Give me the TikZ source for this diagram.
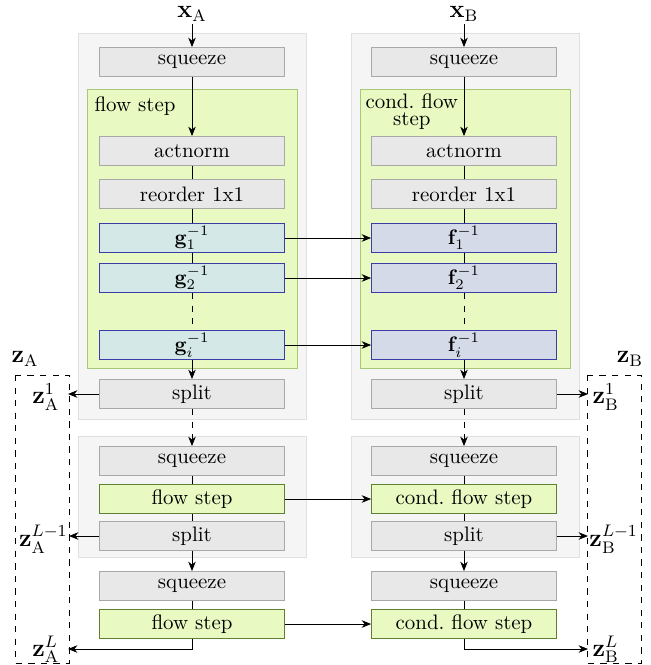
\documentclass[tikz,border=0pt]{standalone}
\usepackage{amsmath}
\usepackage{tikz}
\usetikzlibrary{arrows.meta,positioning}
\definecolor{bgfill}{HTML}{F5F5F5}
\definecolor{bgline}{HTML}{E0E0E0}
\definecolor{opfill}{HTML}{E8E8E8}
\definecolor{opline}{HTML}{A8A8A8}
\definecolor{stepfill}{HTML}{E8FAC2}
\definecolor{stepline}{HTML}{A8C878}
\definecolor{stepdark}{HTML}{5F7F35}
\definecolor{gfill}{HTML}{D4E8E8}
\definecolor{ffill}{HTML}{D4DAE8}
\definecolor{fline}{HTML}{3C3CA8}

\begin{document}
\begin{tikzpicture}[x=0.478pt,y=-0.478pt,
                    opND/.style={rectangle,
                                 draw=opline,
                                 fill=opfill,
                                 minimum width=88.4pt,
                                 minimum height=13.9pt,
                                 inner sep=0pt},
                    gND/.style={opND,draw=fline,fill=gfill},
                    fND/.style={opND,draw=fline,fill=ffill},
                    stepND/.style={opND,draw=stepdark,fill=stepfill},
                    bgbox/.style={draw=bgline,fill=bgfill},
                    stepbg/.style={draw=stepline,fill=stepfill},
                    zbox/.style={draw,dashed},
                    latND/.style={font=\large},
                    ar/.style={-{Stealth[length=4.5pt,width=3.6pt,inset=1.4pt]}},
                    ln/.style={-}]
    \useasboundingbox (0,0) rectangle (650,665);
    % background blocks
    \draw[bgbox] (78,33) rectangle (306,419);
    \draw[bgbox] (351,33) rectangle (579,419);
    \draw[bgbox] (78,436) rectangle (306,557);
    \draw[bgbox] (351,436) rectangle (579,557);
    \draw[stepbg] (87,89) rectangle (297,368);
    \draw[stepbg] (360,89) rectangle (570,368);
    \draw[zbox] (15,375) rectangle (69,663);
    \draw[zbox] (587,375) rectangle (641,663);
    \node[anchor=north west,inner sep=2pt] (fsA) at (90,92) {flow step};
    \node[anchor=north west,inner sep=2pt,align=center] (fsB) at (361,89) {cond.\ flow\\[-4pt]step};

    % left column
    \node[latND,inner sep=1pt] (xA) at (192,14) {$\mathbf{x}_\mathrm{A}$};
    \node[opND](sqA)  at (192,62)  {squeeze};
    \node[opND](actA) at (192,151) {actnorm};
    \node[opND](reA)  at (192,194) {reorder 1x1};
    \node[gND](gA1)   at (192,238) {$\mathbf{g}_1^{-1}$};
    \node[gND](gA2)   at (192,278) {$\mathbf{g}_2^{-1}$};
    \node[gND](gAi)   at (192,345) {$\mathbf{g}_i^{-1}$};
    \node[opND](spA)  at (192,394) {split};
    \node[opND](sqA2) at (192,461) {squeeze};
    \node[stepND](stA2) at (192,499) {flow step};
    \node[opND](spA2) at (192,536) {split};
    \node[opND](sqA3) at (192,586) {squeeze};
    \node[stepND](stA3) at (192,624) {flow step};

    % right column
    \node[latND,inner sep=1pt] (xB) at (464,14) {$\mathbf{x}_\mathrm{B}$};
    \node[opND](sqB)  at (464,62)  {squeeze};
    \node[opND](actB) at (464,151) {actnorm};
    \node[opND](reB)  at (464,194) {reorder 1x1};
    \node[fND](fB1)   at (464,238) {$\mathbf{f}_1^{-1}$};
    \node[fND](fB2)   at (464,278) {$\mathbf{f}_2^{-1}$};
    \node[fND](fBi)   at (464,345) {$\mathbf{f}_i^{-1}$};
    \node[opND](spB)  at (464,394) {split};
    \node[opND](sqB2) at (464,461) {squeeze};
    \node[stepND](stB2) at (464,499) {cond.\ flow step};
    \node[opND](spB2) at (464,536) {split};
    \node[opND](sqB3) at (464,586) {squeeze};
    \node[stepND](stB3) at (464,624) {cond.\ flow step};

    % latents
    \node[latND] (zA) at (25,359)  {$\mathbf{z}_\mathrm{A}$};
    \node[latND] (zB) at (630,359) {$\mathbf{z}_\mathrm{B}$};
    \node[latND,anchor=east,inner sep=4pt] (zA1) at (68,397) {$\mathbf{z}_\mathrm{A}^1$};
    \node[latND,anchor=east,inner sep=0.5pt] (zAL1) at (69,539) {$\mathbf{z}_\mathrm{A}^{L-1}$};
    \node[latND,anchor=east,inner sep=4pt] (zAL) at (68,649) {$\mathbf{z}_\mathrm{A}^L$};
    \node[latND,anchor=west,inner sep=2pt] (zB1) at (588,397) {$\mathbf{z}_\mathrm{B}^1$};
    \node[latND,anchor=west,inner sep=0.5pt] (zBL1) at (588,539) {$\mathbf{z}_\mathrm{B}^{L-1}$};
    \node[latND,anchor=west,inner sep=2pt] (zBL) at (588,649) {$\mathbf{z}_\mathrm{B}^L$};

    \foreach \c in {A,B}{
        \draw[ar] (x\c) -- (sq\c);
        \draw[ar] (sq\c) -- (act\c);
        \draw (act\c) -- (re\c);
        \draw[ar,dashed] (sp\c) -- (sq\c2);
        \draw (sq\c2) -- (st\c2);
        \draw (st\c2) -- (sp\c2);
        \draw[ar] (sp\c2) -- (sq\c3);
        \draw (sq\c3) -- (st\c3);
    }
    \draw (reA) -- (gA1);
    \draw (gA1) -- (gA2);
    \draw[dashed] (gA2) -- (gAi);
    \draw[ar] (gAi) -- (spA);
    \draw (reB) -- (fB1);
    \draw (fB1) -- (fB2);
    \draw[dashed] (fB2) -- (fBi);
    \draw[ar] (fBi) -- (spB);

    % conditioning
    \draw[ar] (gA1) -- (fB1);
    \draw[ar] (gA2) -- (fB2);
    \draw[ar] (gAi) -- (fBi);
    \draw[ar] (stA2) -- (stB2);
    \draw[ar] (stA3) -- (stB3);

    % outputs
    \draw[ar] (spA) -- (spA -| zA1.east);
    \draw[ar] (spA2) -- (spA2 -| zAL1.east);
    \draw[ar] (stA3.south) |- (zAL);
    \draw[ar] (spB) -- (spB -| zB1.west);
    \draw[ar] (spB2) -- (spB2 -| zBL1.west);
    \draw[ar] (stB3.south) |- (zBL);
\end{tikzpicture}
\end{document}
